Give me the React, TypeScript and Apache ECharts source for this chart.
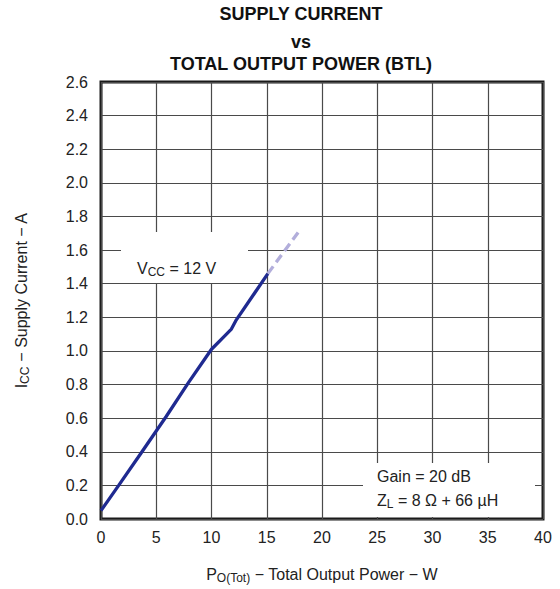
import React, { useEffect, useRef } from "react";
import * as echarts from "echarts";

const powerSolid: number[] = [0, 1.6, 3.6, 5.9, 7.9, 10, 11.2, 11.8, 12.2, 15.1];
const currentSolid: number[] = [0.05, 0.2, 0.39, 0.61, 0.81, 1.01, 1.09, 1.13, 1.18, 1.46];
const powerDashed: number[] = [15.1, 17.9];
const currentDashed: number[] = [1.46, 1.71];

const titleLines: string[] = ["SUPPLY CURRENT", "vs", "TOTAL OUTPUT POWER (BTL)"];

const FONT = "'Liberation Sans', Arial, Helvetica, sans-serif";

export default function App() {
  const ref = useRef<HTMLDivElement>(null);
  useEffect(() => {
    if (!ref.current) return;
    const chart = echarts.init(ref.current, undefined, { renderer: "svg" });
    const solid = powerSolid.map((p, i) => [p, currentSolid[i]]);
    const dashed = powerDashed.map((p, i) => [p, currentDashed[i]]);
    const gridColor = "#4a4a4a";
    const richSub = {
      m: { fontSize: 16, color: "#222", fontFamily: FONT, lineHeight: 20 },
      s: { fontSize: 12, color: "#222", fontFamily: FONT, lineHeight: 14, padding: [8, 0, 0, 0] },
    };
    const richSubFill = {
      m: { fontSize: 16, fill: "#222", fontFamily: FONT, lineHeight: 20 },
      s: { fontSize: 12, fill: "#222", fontFamily: FONT, lineHeight: 14, padding: [8, 0, 0, 0] },
    };
    chart.setOption({
      animation: false,
      backgroundColor: "#ffffff",
      textStyle: { fontFamily: FONT },
      grid: {
        left: 101,
        right: 17,
        top: 82,
        bottom: 64,
        show: true,
        borderColor: "#1a1a1a",
        borderWidth: 3,
        backgroundColor: "transparent",
      },
      xAxis: {
        type: "value",
        min: 0,
        max: 40,
        interval: 5,
        axisLine: { show: false },
        axisTick: { show: false },
        splitLine: { show: true, lineStyle: { color: gridColor, width: 1.2 } },
        axisLabel: { color: "#222", fontSize: 16, margin: 10, fontFamily: FONT },
        name: "{m|P}{s|O(Tot)}{m| − Total Output Power − W}",
        nameLocation: "middle",
        nameGap: 45,
        nameTextStyle: { rich: richSub },
      },
      yAxis: {
        type: "value",
        min: 0,
        max: 2.6,
        interval: 0.2,
        axisLine: { show: false },
        axisTick: { show: false },
        splitLine: { show: true, lineStyle: { color: gridColor, width: 1.2 } },
        axisLabel: {
          color: "#222",
          fontSize: 16,
          margin: 13,
          fontFamily: FONT,
          formatter: (v: number) => v.toFixed(1),
        },
        name: "{m|I}{s|CC}{m| − Supply Current − A}",
        nameLocation: "middle",
        nameGap: 70,
        nameRotate: 90,
        nameTextStyle: { rich: richSub },
      },
      series: [
        {
          type: "line",
          data: solid,
          showSymbol: false,
          symbol: "none",
          lineStyle: { color: "#1f2a90", width: 3.3 },
          z: 3,
        },
        {
          type: "line",
          data: dashed,
          showSymbol: false,
          symbol: "none",
          lineStyle: { color: "#b2aedb", width: 3.3, type: [9, 5] },
          z: 3,
        },
      ],
      graphic: [
        ...titleLines.map((t, i) => ({
          type: "text",
          x: 301,
          y: [14, 42, 64][i],
          style: {
            text: t,
            fontSize: 18,
            fontWeight: "bold",
            fontFamily: FONT,
            fill: "#111",
            textAlign: "center",
            textVerticalAlign: "middle",
          },
        })),
        {
          type: "rect",
          z: 5,
          shape: { x: 121, y: 232, width: 127, height: 51 },
          style: { fill: "#ffffff" },
        },
        {
          type: "text",
          z: 6,
          x: 137,
          y: 268,
          style: {
            text: "{m|V}{s|CC}{m| = 12 V}",
            fontFamily: FONT,
            textVerticalAlign: "middle",
            rich: richSubFill,
          },
        },
        {
          type: "rect",
          z: 5,
          shape: { x: 363, y: 463, width: 172, height: 54 },
          style: { fill: "#ffffff" },
        },
        {
          type: "text",
          z: 6,
          x: 377,
          y: 476,
          style: {
            text: "Gain = 20 dB",
            fontSize: 16,
            fill: "#222",
            fontFamily: FONT,
            textVerticalAlign: "middle",
          },
        },
        {
          type: "text",
          z: 6,
          x: 377,
          y: 500,
          style: {
            text: "{m|Z}{s|L}{m| = 8 Ω + 66 µH}",
            fontFamily: FONT,
            textVerticalAlign: "middle",
            rich: richSubFill,
          },
        },
      ],
    });
    return () => chart.dispose();
  }, []);
  return <div ref={ref} style={{ width: 560, height: 589, position: "absolute", left: 0, top: 0 }} />;
}
